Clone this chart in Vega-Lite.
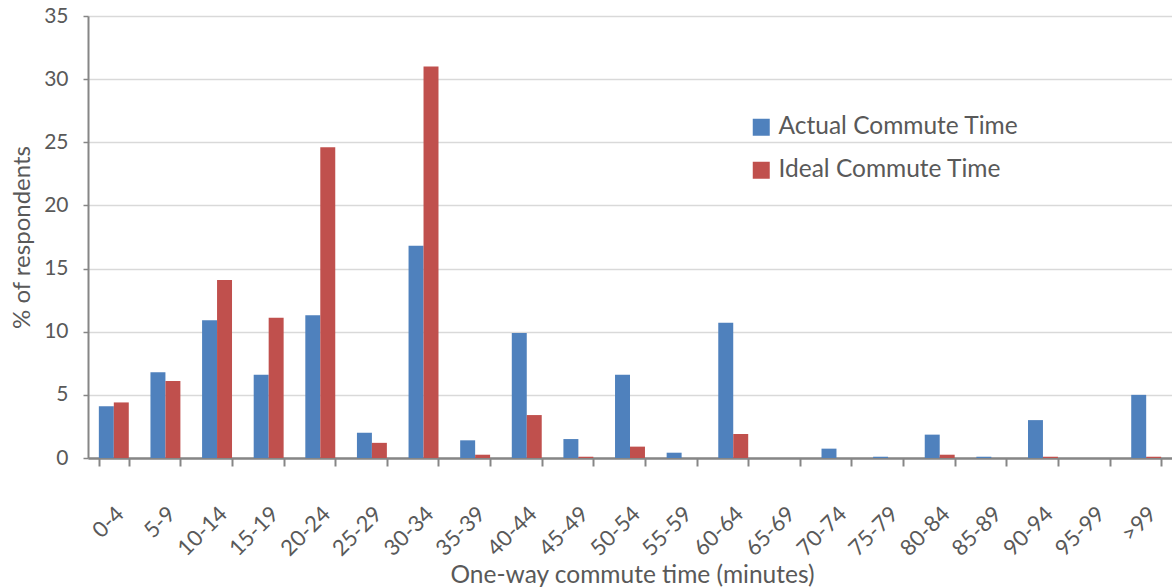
{
  "$schema": "https://vega.github.io/schema/vega-lite/v6.json",
  "width": 1084,
  "height": 442,
  "autosize": {"type": "none"},
  "padding": {"left": 88, "top": 16, "right": 0, "bottom": 130},
  "background": "white",
  "config": {
    "font": "Lato",
    "view": {"stroke": null},
    "axis": {"labelColor": "#595959", "titleColor": "#595959", "titleFontWeight": "normal"}
  },
  "data": {
    "values": [
      {"range": "0-4", "series": "Actual Commute Time", "pct": 4.1},
      {"range": "0-4", "series": "Ideal Commute Time", "pct": 4.4},
      {"range": "5-9", "series": "Actual Commute Time", "pct": 6.8},
      {"range": "5-9", "series": "Ideal Commute Time", "pct": 6.1},
      {"range": "10-14", "series": "Actual Commute Time", "pct": 10.9},
      {"range": "10-14", "series": "Ideal Commute Time", "pct": 14.1},
      {"range": "15-19", "series": "Actual Commute Time", "pct": 6.6},
      {"range": "15-19", "series": "Ideal Commute Time", "pct": 11.1},
      {"range": "20-24", "series": "Actual Commute Time", "pct": 11.3},
      {"range": "20-24", "series": "Ideal Commute Time", "pct": 24.6},
      {"range": "25-29", "series": "Actual Commute Time", "pct": 2.0},
      {"range": "25-29", "series": "Ideal Commute Time", "pct": 1.2},
      {"range": "30-34", "series": "Actual Commute Time", "pct": 16.8},
      {"range": "30-34", "series": "Ideal Commute Time", "pct": 31.0},
      {"range": "35-39", "series": "Actual Commute Time", "pct": 1.4},
      {"range": "35-39", "series": "Ideal Commute Time", "pct": 0.26},
      {"range": "40-44", "series": "Actual Commute Time", "pct": 9.9},
      {"range": "40-44", "series": "Ideal Commute Time", "pct": 3.4},
      {"range": "45-49", "series": "Actual Commute Time", "pct": 1.5},
      {"range": "45-49", "series": "Ideal Commute Time", "pct": 0.1},
      {"range": "50-54", "series": "Actual Commute Time", "pct": 6.6},
      {"range": "50-54", "series": "Ideal Commute Time", "pct": 0.9},
      {"range": "55-59", "series": "Actual Commute Time", "pct": 0.42},
      {"range": "55-59", "series": "Ideal Commute Time", "pct": 0},
      {"range": "60-64", "series": "Actual Commute Time", "pct": 10.7},
      {"range": "60-64", "series": "Ideal Commute Time", "pct": 1.9},
      {"range": "65-69", "series": "Actual Commute Time", "pct": 0},
      {"range": "65-69", "series": "Ideal Commute Time", "pct": 0},
      {"range": "70-74", "series": "Actual Commute Time", "pct": 0.74},
      {"range": "70-74", "series": "Ideal Commute Time", "pct": 0},
      {"range": "75-79", "series": "Actual Commute Time", "pct": 0.1},
      {"range": "75-79", "series": "Ideal Commute Time", "pct": 0},
      {"range": "80-84", "series": "Actual Commute Time", "pct": 1.85},
      {"range": "80-84", "series": "Ideal Commute Time", "pct": 0.26},
      {"range": "85-89", "series": "Actual Commute Time", "pct": 0.1},
      {"range": "85-89", "series": "Ideal Commute Time", "pct": 0},
      {"range": "90-94", "series": "Actual Commute Time", "pct": 3.0},
      {"range": "90-94", "series": "Ideal Commute Time", "pct": 0.1},
      {"range": "95-99", "series": "Actual Commute Time", "pct": 0},
      {"range": "95-99", "series": "Ideal Commute Time", "pct": 0},
      {"range": ">99", "series": "Actual Commute Time", "pct": 5.0},
      {"range": ">99", "series": "Ideal Commute Time", "pct": 0.1}
    ]
  },
  "mark": {"type": "bar"},
  "encoding": {
    "x": {
      "field": "range",
      "type": "nominal",
      "sort": null,
      "scale": {"paddingInner": 0.42, "paddingOuter": 0.21},
      "axis": {
        "title": "One-way commute time (minutes)",
        "titleFontSize": 24.5,
        "titleX": 544,
        "titleY": 117,
        "titleBaseline": "middle",
        "labelAngle": -45,
        "labelAlign": "right",
        "labelBaseline": "middle",
        "labelFontSize": 22,
        "labelPadding": 44,
        "labelOffset": 6,
        "tickBand": "extent",
        "tickSize": 8,
        "tickColor": "#868686",
        "tickWidth": 2,
        "domainColor": "#868686",
        "domainWidth": 2.5,
        "grid": false
      }
    },
    "xOffset": {"field": "series", "type": "nominal", "scale": {"paddingInner": 0, "paddingOuter": 0}},
    "y": {
      "field": "pct",
      "type": "quantitative",
      "scale": {"domain": [0, 35], "nice": false},
      "axis": {
        "title": "% of respondents",
        "titleFontSize": 24,
        "titleX": -66,
        "titleY": 221,
        "titleAngle": -90,
        "titleAlign": "center",
        "titleBaseline": "middle",
        "values": [0, 5, 10, 15, 20, 25, 30, 35],
        "labelFontSize": 21,
        "labelPadding": 15,
        "tickSize": 5,
        "tickColor": "#868686",
        "tickWidth": 1.5,
        "domainColor": "#868686",
        "domainWidth": 2,
        "gridColor": "#d9d9d9",
        "gridWidth": 1.5
      }
    },
    "color": {
      "field": "series",
      "type": "nominal",
      "scale": {"domain": ["Actual Commute Time", "Ideal Commute Time"], "range": ["#4F81BD", "#C0504D"]},
      "legend": {
        "title": null,
        "orient": "none",
        "legendX": 661,
        "legendY": 99,
        "symbolType": "square",
        "symbolSize": 289,
        "symbolStrokeWidth": 0,
        "labelFontSize": 24.5,
        "labelLimit": 500,
        "labelColor": "#595959",
        "labelOffset": 5,
        "rowPadding": 18
      }
    }
  }
}
